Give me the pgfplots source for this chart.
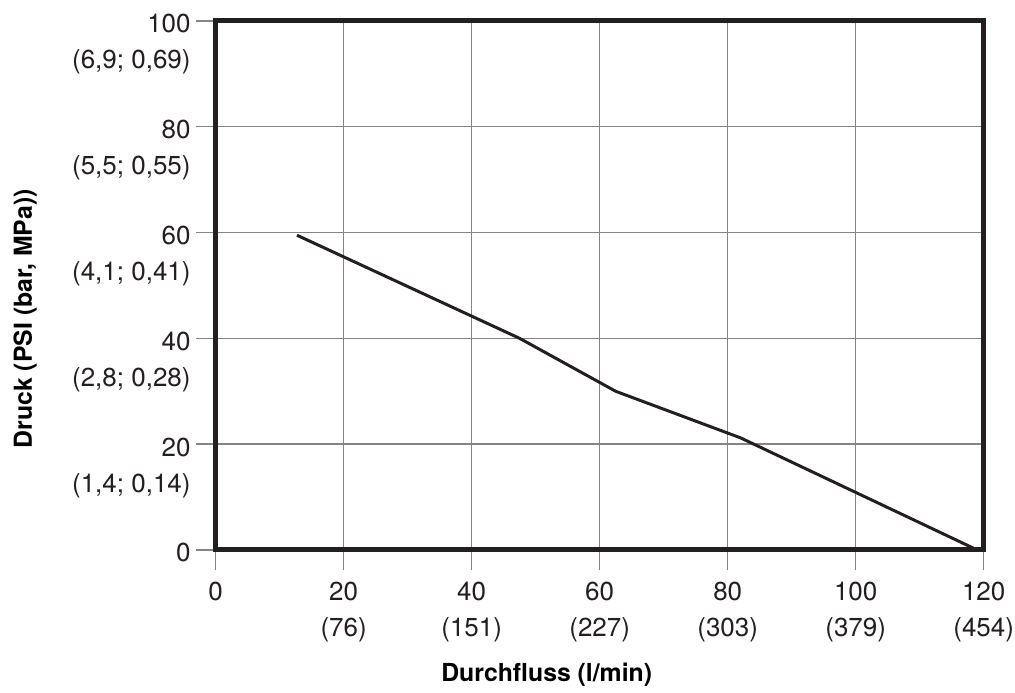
\documentclass[border=0pt]{standalone}
\usepackage{fontspec}
\setmainfont{TeX Gyre Heros}
\usepackage{pgfplots}
\pgfplotsset{compat=1.18}
\definecolor{frame}{HTML}{231F20}
\definecolor{gridc}{HTML}{858585}
\newcommand{\tl}[3]{\begin{tabular}[t]{@{}#1@{}}#2\\[2.5pt]#3\end{tabular}}
\begin{document}
\begin{tikzpicture}
\begin{axis}[
  scale only axis,
  width=384pt, height=264.5pt,
  xmin=0, xmax=120, ymin=0, ymax=100,
  xtick={0,20,40,60,80,100,120},
  ytick={0,20,40,60,80,100},
  xticklabels={0,\tl{c}{20}{(76)},\tl{c}{40}{(151)},\tl{c}{60}{(227)},\tl{c}{80}{(303)},\tl{c}{100}{(379)},\tl{c}{120}{(454)}},
  yticklabels={0,\tl{r}{20}{(1,4; 0,14)},\tl{r}{40}{(2,8; 0,28)},\tl{r}{60}{(4,1; 0,41)},\tl{r}{80}{(5,5; 0,55)},\tl{r}{100}{(6,9; 0,69)}},
  tick pos=left,
  tick align=outside,
  major tick length=10pt,
  tick style={gridc, line width=0.7pt},
  grid=major,
  grid style={gridc, line width=0.7pt},
  axis line style={frame, line width=2.5pt},
  tick label style={font=\fontsize{13}{15.5}\selectfont, text=frame},
  xticklabel style={anchor=base, yshift=-15.5pt},
  yticklabel style={anchor=base east, yshift=-6pt, xshift=1pt},
  xlabel={Durchfluss (l/min)},
  ylabel={Druck (PSI (bar, MPa))},
  label style={font=\bfseries\fontsize{12.4}{14}\selectfont, text=black},
  xlabel style={at={(axis description cs:0.431,-0.236)}, anchor=center},
  ylabel style={at={(axis description cs:-0.248,0.437)}, anchor=center},
]
\addplot[frame, line width=1.5pt, mark=none] coordinates {
  (12.7,59.5) (47.5,40) (62.5,30) (82,21.2) (119,0)
};
\coordinate (sw) at (rel axis cs:0,0);
\coordinate (ne) at (rel axis cs:1,1);
\end{axis}
\pgfresetboundingbox
\path ([shift={(-107.85pt,-71.5pt)}]sw) rectangle ([shift={(15.65pt,10.5pt)}]ne);
\end{tikzpicture}
\end{document}
